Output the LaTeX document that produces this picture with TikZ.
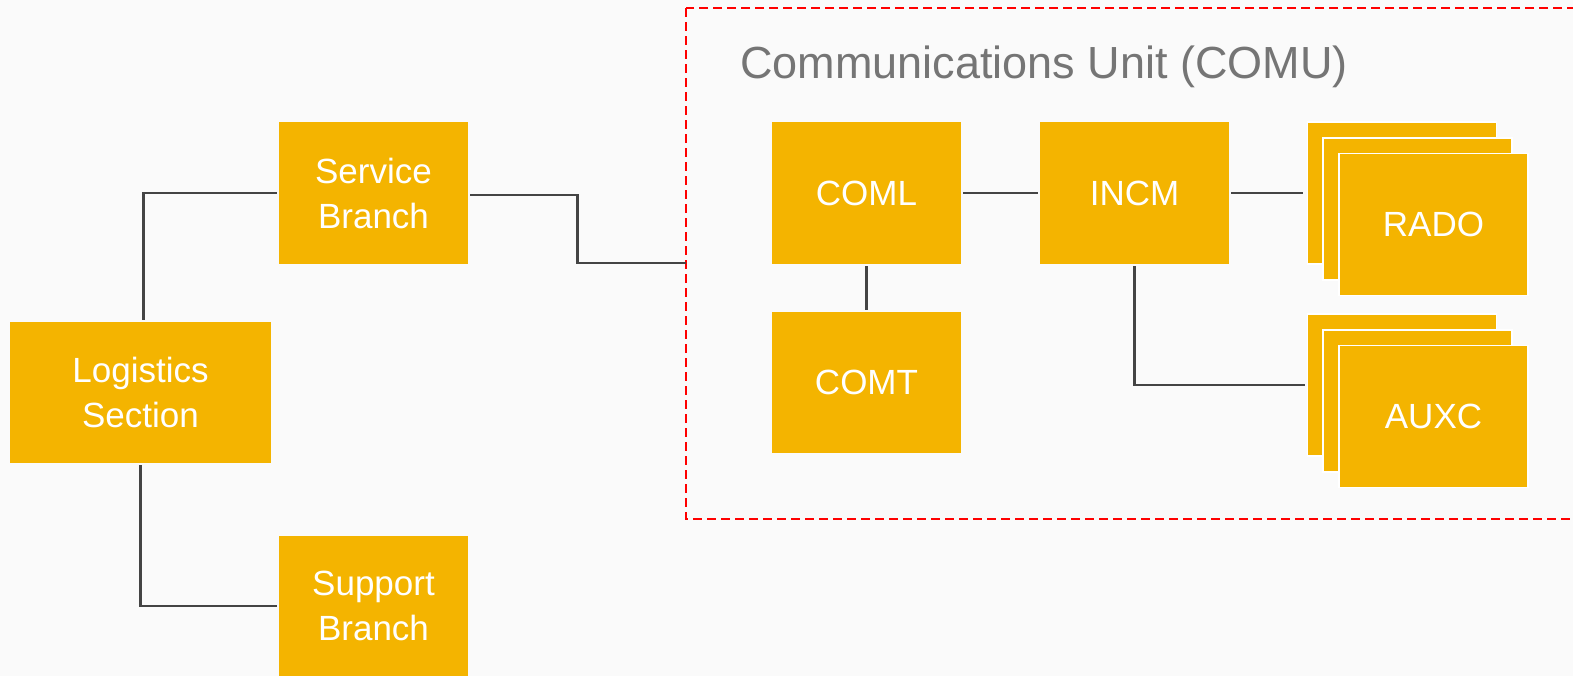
\documentclass[tikz,border=0pt]{standalone}
\usepackage{fontspec}
\setmainfont{Liberation Sans}
\definecolor{gold}{HTML}{F4B400}
\definecolor{wire}{HTML}{444444}
\definecolor{paper}{HTML}{FAFAFA}
\definecolor{caption}{HTML}{757575}

\begin{document}
\begin{tikzpicture}[x=0.5pt, y=-0.5pt,
	box/.style={fill=gold, text=white, inner sep=0pt, align=center,
		minimum width=94.5pt, minimum height=71pt,
		font=\fontsize{17.5}{22.5}\selectfont},
	stacked/.style={box, draw=white, line width=0.8pt},
	wire/.style={draw=wire, line width=1.1pt}]
	\clip (0,0) rectangle (1573,676);
	\fill[paper] (0,0) rectangle (1573,676);

	% left side
	\node[box, minimum width=130.5pt, minimum height=70.5pt] (log) at (140.5,392.5) {Logistics\\Section};
	\node[box] (svc) at (373.5,193) {Service\\Branch};
	\node[box, minimum height=70pt] (sup) at (373.5,606) {Support\\Branch};

	% communications unit
	\draw[red, line width=1pt, dash pattern=on 4.5pt off 2.5pt] (686,8) rectangle (1600,519);
	\node[anchor=base west, text=caption, inner sep=0pt, font=\fontsize{22.5}{22.5}\selectfont] (comu) at (740,78) {Communications Unit (COMU)};
	\coordinate (comu-in) at (686,263);

	\node[box] (coml) at (866.5,193) {COML};
	\node[box, minimum height=70.5pt] (comt) at (866.5,382.5) {COMT};
	\node[box] (incm) at (1134.5,193) {INCM};

	\node[stacked] (rado3) at (1402,193) {};
	\node[stacked] (rado2) at (1417.5,209) {};
	\node[stacked] (rado) at (1433.5,224.5) {RADO};

	\node[stacked] (auxc3) at (1402,385) {};
	\node[stacked] (auxc2) at (1417.5,401) {};
	\node[stacked] (auxc) at (1433.5,416.5) {AUXC};

	% connectors
	\draw[wire] ([xshift=1.5pt,yshift=1pt]log.north) |- ([xshift=-1pt]svc.west);
	\draw[wire] ([yshift=-1pt]log.south) |- ([xshift=-1pt]sup.west);
	\draw[wire] ([xshift=1pt,yshift=-1pt]svc.east) -- ++(107,0) |- (comu-in);
	\draw[wire] ([yshift=-1pt]coml.south) -- ([yshift=1pt]comt.north);
	\draw[wire] ([xshift=1pt]coml.east) -- ([xshift=-1pt]incm.west);
	\draw[wire] ([xshift=1pt]incm.east) -- ([xshift=-2pt]rado3.west);
	\draw[wire] ([yshift=-1pt]incm.south) |- ([xshift=-1pt]auxc3.west);
\end{tikzpicture}
\end{document}
